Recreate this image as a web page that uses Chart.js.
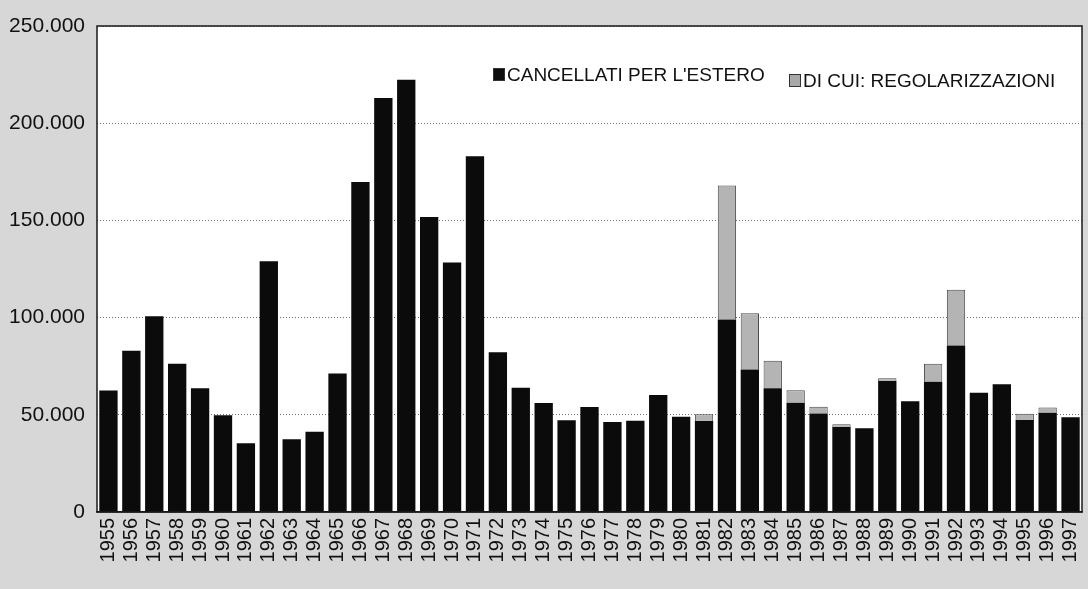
<!DOCTYPE html>
<html>
<head>
<meta charset="utf-8">
<script src="https://cdn.jsdelivr.net/npm/chart.js@4/dist/chart.umd.min.js"></script>
<style>
  html, body { margin: 0; padding: 0; background: #d7d7d7; }
  #wrap { width: 1088px; height: 589px; position: relative; }
</style>
</head>
<body>
<div id="wrap"><canvas id="c" width="1088" height="589"></canvas></div>
<script>
const years = ['1955','1956','1957','1958','1959','1960','1961','1962','1963','1964',
  '1965','1966','1967','1968','1969','1970','1971','1972','1973','1974',
  '1975','1976','1977','1978','1979','1980','1981','1982','1983','1984',
  '1985','1986','1987','1988','1989','1990','1991','1992','1993','1994',
  '1995','1996','1997'];

const cancellati = [62500, 83000, 100700, 76200, 63700, 49800, 35400, 129000, 37400, 41300,
  71200, 169800, 212900, 222300, 151700, 128300, 183000, 82200, 63900, 56100,
  47200, 54000, 46300, 46900, 60200, 49000, 46800, 99000, 73300, 63600,
  56200, 50700, 43700, 43100, 67400, 57000, 67000, 85700, 61300, 65700,
  47300, 51000, 48800];

const regolarizzazioni = [0, 0, 0, 0, 0, 0, 0, 0, 0, 0,
  0, 0, 0, 0, 0, 0, 0, 0, 0, 0,
  0, 0, 0, 0, 0, 0, 3500, 69000, 29000, 14200,
  6400, 3400, 1400, 0, 1400, 0, 9200, 28600, 0, 0,
  3200, 2800, 0];

const seriesLabels = ['CANCELLATI PER L\'ESTERO', 'DI CUI: REGOLARIZZAZIONI'];
const yTicks = [0, 50000, 100000, 150000, 200000, 250000];

function fmt(v) {
  return String(v).replace(/\B(?=(\d{3})+(?!\d))/g, '.');
}

const framePlugin = {
  id: 'frame',
  beforeDraw(chart) {
    const a = chart.chartArea, ctx = chart.ctx;
    ctx.save();
    ctx.fillStyle = '#ffffff';
    ctx.fillRect(a.left, a.top, a.right - a.left, a.bottom - a.top);
    ctx.restore();
  },
  afterDraw(chart) {
    const a = chart.chartArea, ctx = chart.ctx;
    ctx.save();
    ctx.strokeStyle = '#1a1a1a';
    ctx.lineWidth = 1.5;
    ctx.strokeRect(a.left, a.top, a.right - a.left, a.bottom - a.top);
    ctx.font = '19px "Liberation Sans", Arial, sans-serif';
    ctx.textBaseline = 'alphabetic';
    const items = [
      { x: 493, y: 81, fill: '#0d0d0d', label: chart.data.datasets[0].label },
      { x: 789, y: 87, fill: '#a9a9a9', label: chart.data.datasets[1].label }
    ];
    items.forEach(it => {
      ctx.fillStyle = it.fill;
      ctx.fillRect(it.x, it.y - 13, 12, 13);
      ctx.strokeStyle = '#333';
      ctx.lineWidth = 1;
      ctx.strokeRect(it.x + 0.5, it.y - 12.5, 11, 12);
      ctx.fillStyle = '#111';
      ctx.fillText(it.label, it.x + 14, it.y);
    });
    ctx.restore();
  }
};

new Chart(document.getElementById('c'), {
  type: 'bar',
  data: {
    labels: years,
    datasets: [
      {
        label: seriesLabels[0],
        data: cancellati,
        backgroundColor: '#0b0b0b',
        borderColor: '#000',
        borderWidth: 0,
        barPercentage: 0.8,
        categoryPercentage: 1.0,
        stack: 's'
      },
      {
        label: seriesLabels[1],
        data: regolarizzazioni,
        backgroundColor: '#b4b4b4',
        borderColor: '#4a4a4a',
        borderWidth: 1,
        barPercentage: 0.8,
        categoryPercentage: 1.0,
        stack: 's'
      }
    ]
  },
  options: {
    responsive: false,
    devicePixelRatio: 1,
    animation: false,
    layout: { padding: { left: 0, right: 6, top: 26, bottom: 0 } },
    plugins: {
      legend: { display: false },
      tooltip: { enabled: false }
    },
    scales: {
      x: {
        stacked: true,
        grid: { display: false, drawTicks: false },
        border: { display: true, color: '#1a1a1a', width: 1.5 },
        ticks: {
          color: '#111',
          font: { family: '"Liberation Sans", Arial, sans-serif', size: 20 },
          maxRotation: 90,
          minRotation: 90,
          autoSkip: false,
          padding: 6
        },
        afterFit(s) { s.height = 77; s.paddingLeft = 0; s.paddingRight = 0; }
      },
      y: {
        stacked: true,
        min: 0,
        max: 250000,
        afterBuildTicks(s) { s.ticks = yTicks.map(v => ({ value: v })); },
        grid: { color: '#707070', lineWidth: 1, drawTicks: false },
        border: { display: false, dash: [1, 2] },
        ticks: {
          color: '#111',
          font: { family: '"Liberation Sans", Arial, sans-serif', size: 21 },
          padding: 12,
          callback: v => fmt(v)
        },
        afterFit(s) { s.width = 97; s.paddingTop = 0; s.paddingBottom = 0; }
      }
    }
  },
  plugins: [framePlugin]
});
</script>
</body>
</html>
